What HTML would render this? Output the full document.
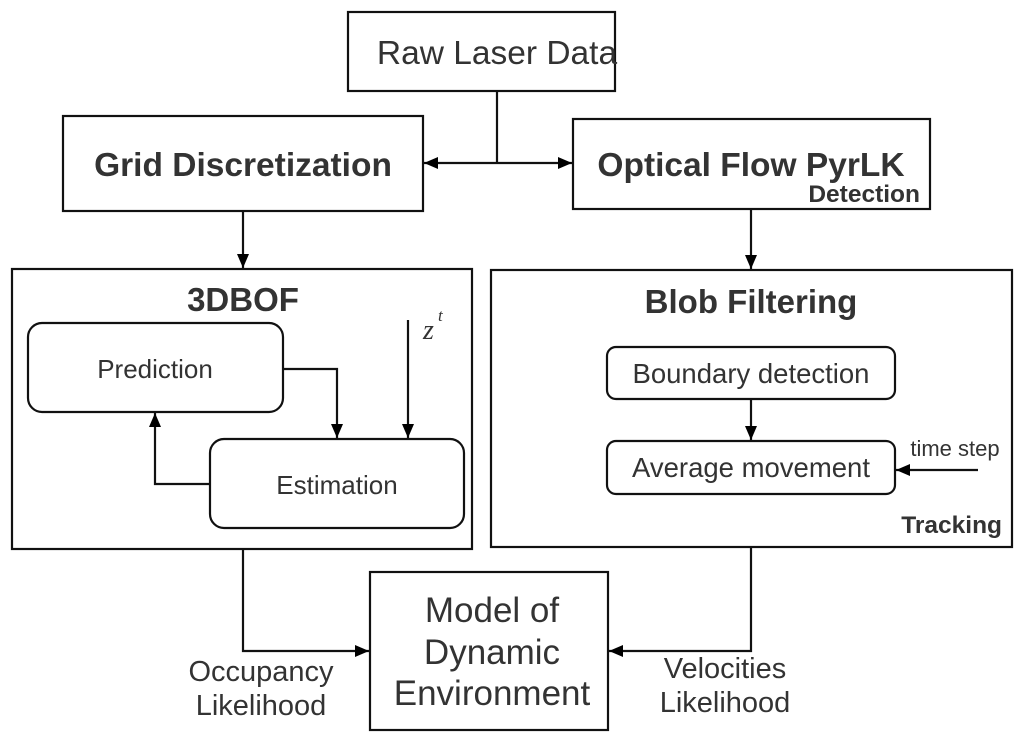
<!DOCTYPE html>
<html><head><meta charset="utf-8"><style>
html,body{margin:0;padding:0;background:#fff}
svg{display:block}
text{font-family:"Liberation Sans",sans-serif;fill:#333}
</style></head><body>
<svg width="1024" height="743" viewBox="0 0 1024 743" xmlns="http://www.w3.org/2000/svg">
<defs>
<marker id="a" markerWidth="14" markerHeight="12" refX="14" refY="6" orient="auto" markerUnits="userSpaceOnUse" viewBox="0 0 14 12">
<path d="M0,0 L14,6 L0,12 z" fill="#000"/>
</marker>
</defs>
<g fill="none" stroke="#111" stroke-width="2.2">
<rect x="348" y="12" width="267" height="79"/>
<rect x="63" y="116" width="360" height="95"/>
<rect x="573" y="119" width="357" height="90"/>
<rect x="12" y="269" width="460" height="280"/>
<rect x="491" y="270" width="521" height="277"/>
<rect x="28" y="323" width="255" height="89" rx="14"/>
<rect x="210" y="439" width="254" height="89" rx="14"/>
<rect x="607" y="347" width="288" height="52" rx="9"/>
<rect x="607" y="441" width="288" height="53" rx="9"/>
<rect x="370" y="572" width="238" height="158"/>
<line x1="497" y1="91" x2="497" y2="163"/>
<line x1="497" y1="163" x2="424" y2="163" marker-end="url(#a)"/>
<line x1="497" y1="163" x2="572" y2="163" marker-end="url(#a)"/>
<line x1="243" y1="211" x2="243" y2="268" marker-end="url(#a)"/>
<line x1="751" y1="209" x2="751" y2="269" marker-end="url(#a)"/>
<polyline points="283,369 337,369 337,438" marker-end="url(#a)"/>
<line x1="408" y1="320" x2="408" y2="438" marker-end="url(#a)"/>
<polyline points="210,484 155,484 155,413" marker-end="url(#a)"/>
<line x1="751" y1="399" x2="751" y2="440" marker-end="url(#a)"/>
<line x1="978" y1="470" x2="896" y2="470" marker-end="url(#a)"/>
<polyline points="243,549 243,651 369,651" marker-end="url(#a)"/>
<polyline points="751,547 751,651 609,651" marker-end="url(#a)"/>
</g>
<g text-anchor="middle">
<text x="497" y="64" font-size="33.5">Raw Laser Data</text>
<text x="243" y="176" font-size="33.5" font-weight="bold">Grid Discretization</text>
<text x="751" y="176" font-size="33.5" font-weight="bold">Optical Flow PyrLK</text>
<text x="243" y="311" font-size="33" font-weight="bold">3DBOF</text>
<text x="751" y="313" font-size="33" font-weight="bold">Blob Filtering</text>
<text x="155" y="378" font-size="26">Prediction</text>
<text x="337" y="494" font-size="26">Estimation</text>
<text x="751" y="383" font-size="27.5">Boundary detection</text>
<text x="751" y="477" font-size="27.5">Average movement</text>
<text x="492" y="622" font-size="35">Model of</text>
<text x="492" y="664" font-size="35">Dynamic</text>
<text x="492" y="705" font-size="35">Environment</text>
<text x="261" y="681" font-size="29">Occupancy</text>
<text x="261" y="715" font-size="29">Likelihood</text>
<text x="725" y="678" font-size="29">Velocities</text>
<text x="725" y="712" font-size="29">Likelihood</text>
</g>
<g text-anchor="end" font-weight="bold">
<text x="920" y="202" font-size="24.5">Detection</text>
<text x="1002" y="533" font-size="24.5">Tracking</text>
</g>
<text x="955" y="456" font-size="22" text-anchor="middle">time step</text>
<text x="423" y="339" font-size="28" font-style="italic" style="font-family:'Liberation Serif',serif">z</text>
<text x="438" y="321" font-size="17" font-style="italic" style="font-family:'Liberation Serif',serif">t</text>
</svg>
</body></html>
